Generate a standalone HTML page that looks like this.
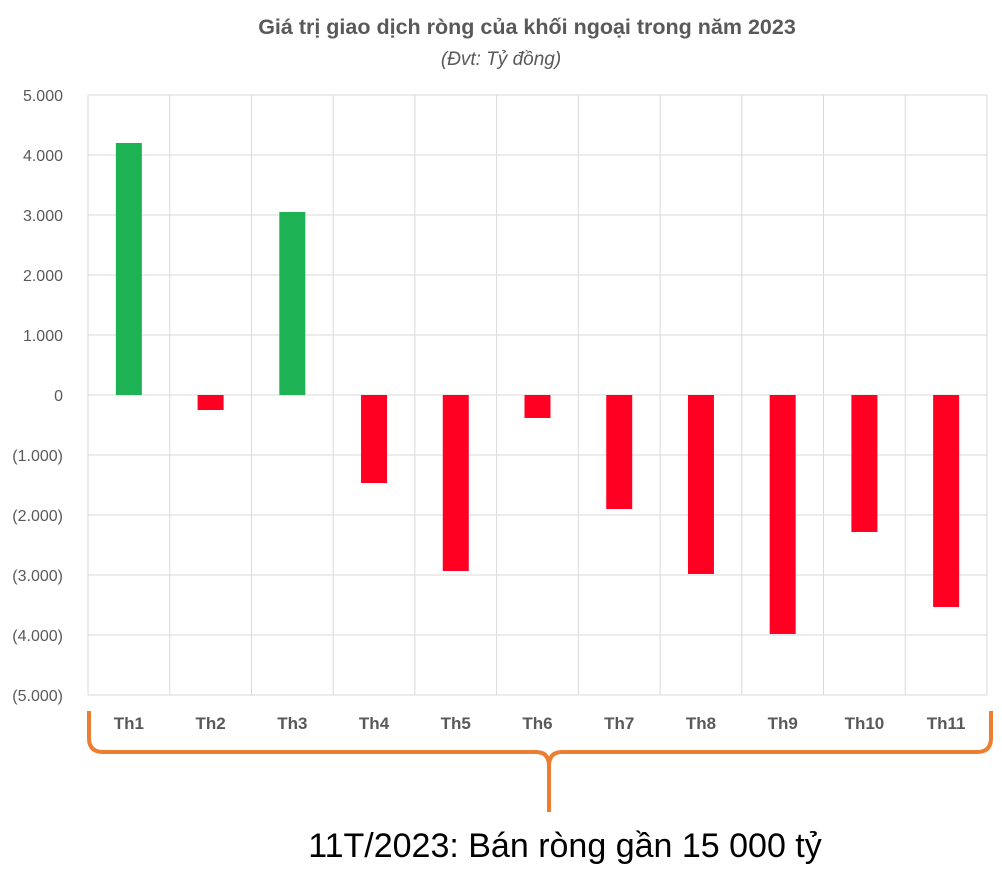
<!DOCTYPE html>
<html><head><meta charset="utf-8">
<style>
html,body{margin:0;padding:0;background:#fff;}
svg{display:block;font-family:"Liberation Sans",sans-serif;}
</style></head>
<body>
<svg id="chart" width="1002" height="888">
  <text x="527" y="34" text-anchor="middle" font-size="21.5" font-weight="bold" fill="#595959">Giá trị giao dịch ròng của khối ngoại trong năm 2023</text>
  <text x="501" y="65" text-anchor="middle" font-size="19" font-style="italic" fill="#595959">(Đvt: Tỷ đồng)</text>
  <g id="grid"></g>
  <g id="bars"></g>
  <g id="ylabels"></g>
  <g id="xlabels"></g>
  <path d="M89,711 L89,738 Q89,752 103,752 L536,752 Q549,752 549,766 L549,812 M549,766 Q549,752 562,752 L977,752 Q991,752 991,738 L991,711" fill="none" stroke="#ED7D31" stroke-width="4"/>
  <text x="565" y="857" text-anchor="middle" font-size="34" fill="#000">11T/2023: Bán ròng gần 15 000 tỷ</text>
</svg>
<script>
const categories = ["Th1","Th2","Th3","Th4","Th5","Th6","Th7","Th8","Th9","Th10","Th11"];
const values = [4200,-250,3050,-1467,-2933,-383,-1900,-2983,-3983,-2283,-3533];
const yTicks = [5000,4000,3000,2000,1000,0,-1000,-2000,-3000,-4000,-5000];
const yTickLabels = ["5.000","4.000","3.000","2.000","1.000","0","(1.000)","(2.000)","(3.000)","(4.000)","(5.000)"];

const NS="http://www.w3.org/2000/svg";
const pL=88,pR=987,pT=95,pB=695,yMax=5000,yMin=-5000;
const yS=v=>pT+(yMax-v)/(yMax-yMin)*(pB-pT);
const bw=(pR-pL)/categories.length;
const xc=i=>pL+bw*(i+0.5);
function mk(tag,attrs,parent){const e=document.createElementNS(NS,tag);for(const k in attrs)e.setAttribute(k,attrs[k]);document.getElementById(parent).appendChild(e);return e;}

yTicks.forEach((t,i)=>{
  const l=mk("line",{x1:pL,x2:pR,y1:yS(t),y2:yS(t),stroke:"#d9d9d9","stroke-width":1},"grid");
  
  
  const tx=mk("text",{x:63,y:yS(t)+6,"text-anchor":"end","font-size":16,fill:"#595959"},"ylabels");
  tx.textContent=yTickLabels[i];
  
  
});
for(let i=0;i<=categories.length;i++){
  const x=pL+bw*i;
  const l=mk("line",{x1:x,x2:x,y1:pT,y2:pB,stroke:"#d9d9d9","stroke-width":1},"grid");
  
  
}
const barW=26;
categories.forEach((c,i)=>{
  const v=values[i];
  const y0=yS(0),y1=yS(v);
  const r=mk("rect",{x:xc(i)-barW/2,y:Math.min(y0,y1),width:barW,height:Math.abs(y1-y0),fill:v>=0?"#1DB254":"#FF0022"},"bars");
  
  
  const tx=mk("text",{x:xc(i),y:729,"text-anchor":"middle","font-size":17,"font-weight":"bold",fill:"#595959"},"xlabels");
  tx.textContent=c;
  
  
});
</script>
</body></html>
